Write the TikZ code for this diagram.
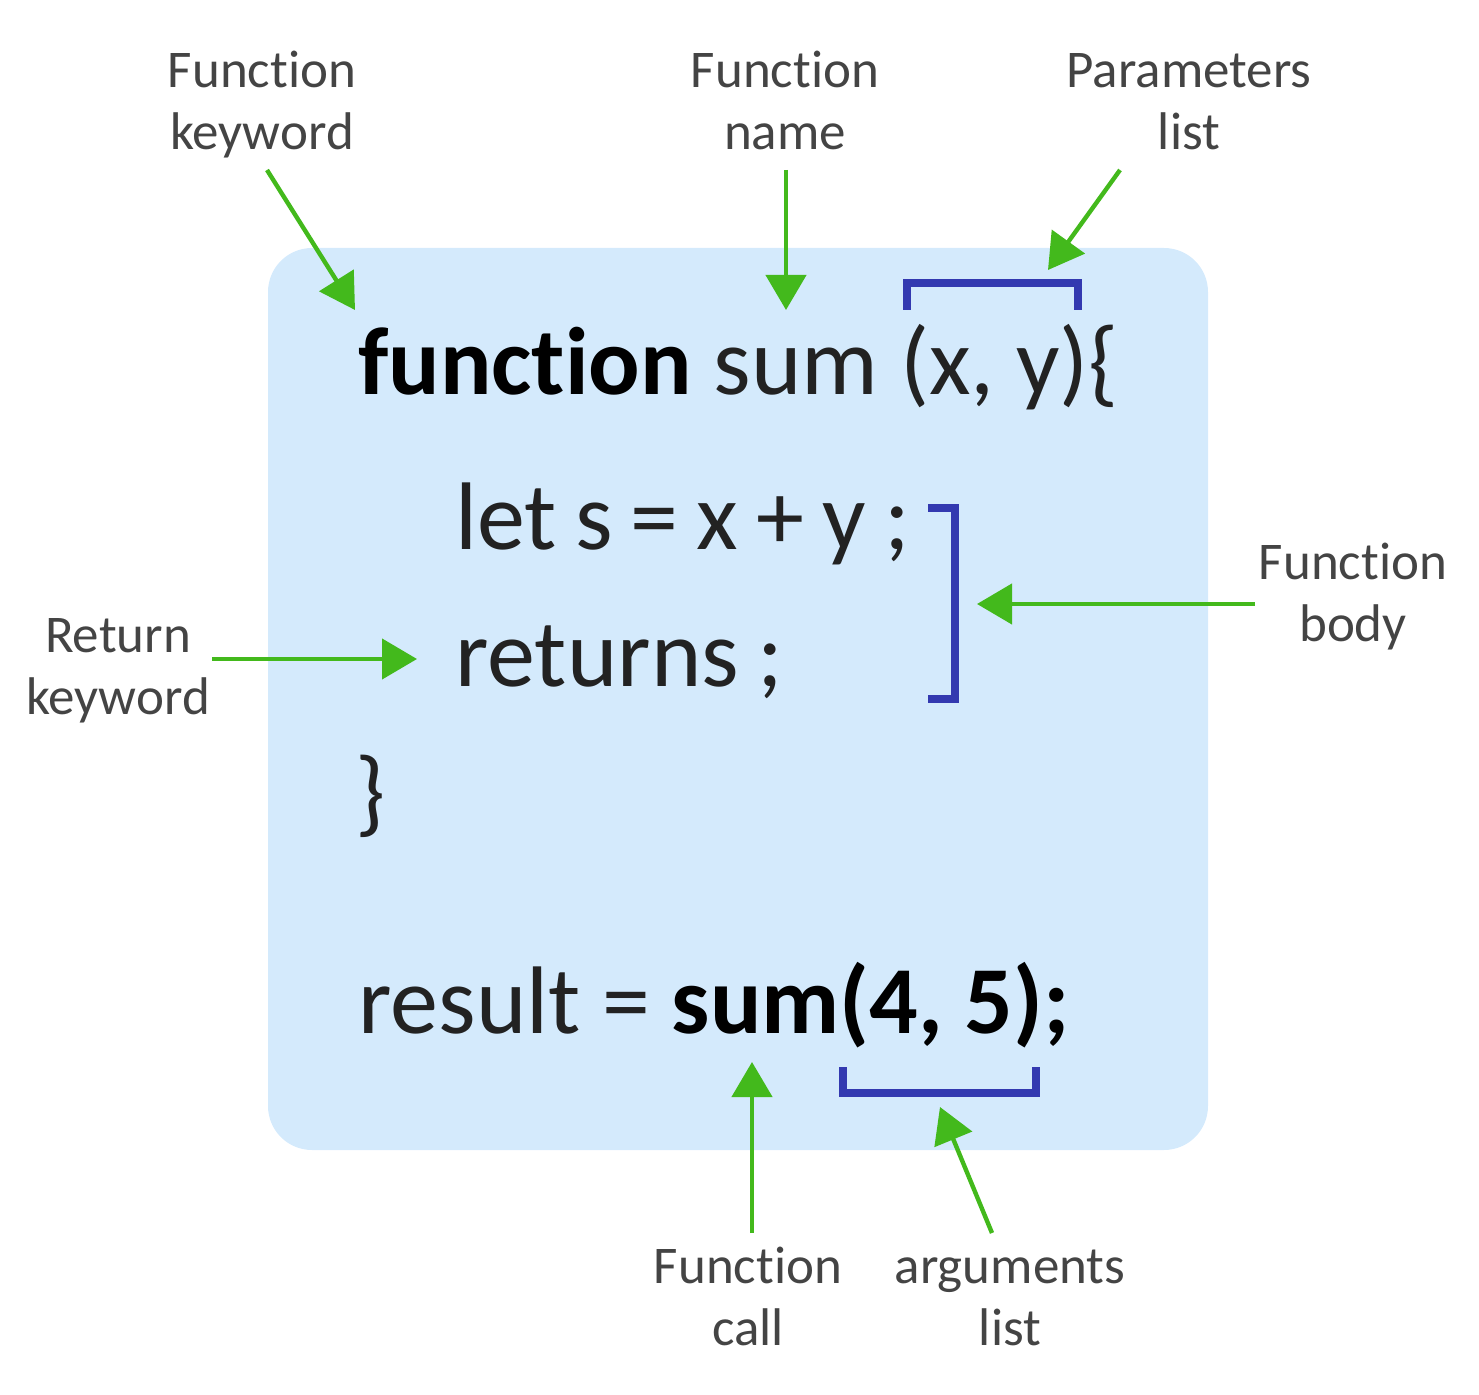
\documentclass[tikz,border=0pt]{standalone}
\usepackage{fontspec}
\setmainfont{Carlito}[Ligatures=NoCommon]
\usetikzlibrary{arrows.meta}
\definecolor{boxbg}{RGB}{212,234,252}
\definecolor{grn}{RGB}{67,185,28}
\definecolor{brk}{RGB}{51,57,176}
\definecolor{lbl}{RGB}{68,68,68}
\definecolor{codec}{RGB}{34,34,34}
\begin{document}
\begin{tikzpicture}[x=0.5pt,y=-0.5pt,
  lab/.style={font=\fontsize{26.5}{31}\selectfont, text=lbl, align=center, inner sep=0pt, anchor=base},
  codet/.style={font=\fontsize{48}{58}\selectfont, text=codec, anchor=base west, inner sep=0pt},
  arr/.style={draw=grn, line width=2.2pt, -{Triangle[length=17.5pt,width=20pt]}},
  brkt/.style={draw=brk, line width=4pt}]
\useasboundingbox (0,0) rectangle (1479,1395);
\fill[boxbg, rounded corners=22pt] (268,248) rectangle (1208,1150);

% code
\node[codet] (l1) at (358,395) {{\bfseries\color{black}function} sum (x, y)\{};
\node[codet] (l2) at (455,550) {\spaceskip=0.19em let s = x + y ;};
\node[codet] (l3) at (455,687) {\spaceskip=0.19em returns ;};
\node[codet] (l4) at (355,825) {\}};
\node[codet] (l5) at (358,1033) {result = {\bfseries\color{black}sum(4, 5);}};

% labels (anchor = baseline of last line)
\node[lab] (kw) at (262,150) {Function\\keyword};
\node[lab] (fn) at (785,150) {Function\\name};
\node[lab] (pl) at (1189,150) {Parameters\\list};
\node[lab] (rk) at (118,715) {Return\\keyword};
\node[lab] (fb) at (1353,642) {Function\\body};
\node[lab] (fc) at (748,1345) {Function\\call};
\node[lab] (al) at (1010,1345) {arguments\\list};

% brackets
\draw[brkt] (907,310) -- (907,283) -- (1078,283) -- (1078,310);
\draw[brkt] (928,508) -- (955,508) -- (955,699) -- (928,699);
\draw[brkt] (843,1067) -- (843,1093) -- (1036,1093) -- (1036,1067);

% arrow ends
\coordinate (kwa) at (267,170); \coordinate (kwt) at (355,310);
\coordinate (fna) at (786,170); \coordinate (fnt) at (786,310);
\coordinate (pla) at (1120,170); \coordinate (plt) at (1048,270);
\coordinate (rka) at (212,659); \coordinate (rkt) at (417,659);
\coordinate (fba) at (1255,604); \coordinate (fbt) at (977,604);
\coordinate (fca) at (752,1233); \coordinate (fct) at (752,1062);
\coordinate (ala) at (992,1233); \coordinate (alt) at (940,1107);

\draw[arr] (kwa) -- (kwt);
\draw[arr] (fna) -- (fnt);
\draw[arr] (pla) -- (plt);
\draw[arr] (rka) -- (rkt);
\draw[arr] (fba) -- (fbt);
\draw[arr] (fca) -- (fct);
\draw[arr] (ala) -- (alt);
\end{tikzpicture}
\end{document}
